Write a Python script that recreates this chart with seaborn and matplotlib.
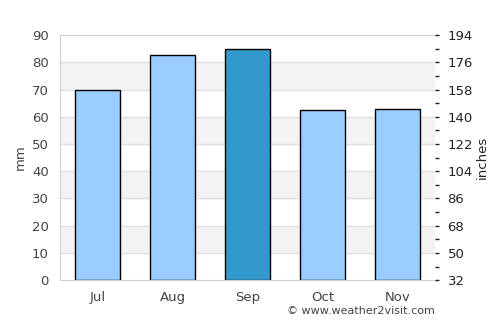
import numpy as np
import pandas as pd
import seaborn as sns
from matplotlib import pyplot as plt
from matplotlib.ticker import MultipleLocator, FixedLocator

months = ['Jul', 'Aug', 'Sep', 'Oct', 'Nov']
rain_mm = [70, 82.6, 85, 62.4, 62.7]
bar_colors = ['#99ccff', '#99ccff', '#3399cc', '#99ccff', '#99ccff']
right_ticks = [32, 50, 68, 86, 104, 122, 140, 158, 176, 194]

data = pd.DataFrame({'month': months, 'mm': rain_mm})

sns.set_style('white')
plt.rcParams['font.family'] = ['DejaVu Sans']

fig = plt.figure(figsize=(5, 3.25), dpi=100)
ax = fig.add_axes([0.12, 0.138, 0.75, 0.754])

# alternating bands
for lo in [10, 30, 50, 70]:
    ax.axhspan(lo, lo + 10, color='#f3f3f3', zorder=0)
for y in range(10, 90, 10):
    ax.axhline(y, color='#e0e0e0', lw=1, zorder=0.5)

sns.barplot(ax=ax, x='month', y='mm', data=data, hue='month', palette=bar_colors,
            legend=False, width=0.6, edgecolor='black', linewidth=1, zorder=2, saturation=1)

ax.set_xlim(-0.5, 4.5)
ax.set_ylim(0, 90)
ax.yaxis.set_major_locator(MultipleLocator(10))
ax.set_xlabel('')
ax.set_ylabel('mm', color='#444444', fontsize=9.5)
ax.tick_params(axis='both', colors='#444444', labelsize=9.5, length=0, pad=8)
for s in ['left', 'bottom', 'top']:
    ax.spines[s].set_color('#d0d0d0')
ax.spines['right'].set_visible(False)

ax2 = ax.twinx()
ax2.set_ylim(right_ticks[0], right_ticks[-1])
ax2.set_yticks(right_ticks)
ax2.yaxis.set_minor_locator(FixedLocator([t + 9 for t in right_ticks[:-1]]))
ax2.tick_params(axis='y', which='both', colors='#222222', labelsize=9.5, length=3, width=1, pad=6)
for s in ax2.spines.values():
    s.set_visible(False)
ax2.set_ylabel('inches', color='#222222', fontsize=9.5, labelpad=2)

fig.text(0.87, 0.027, '\u00a9 www.weather2visit.com', ha='right', va='bottom',
         fontsize=8, color='#444444')

fig.savefig('out.png', dpi=100)
